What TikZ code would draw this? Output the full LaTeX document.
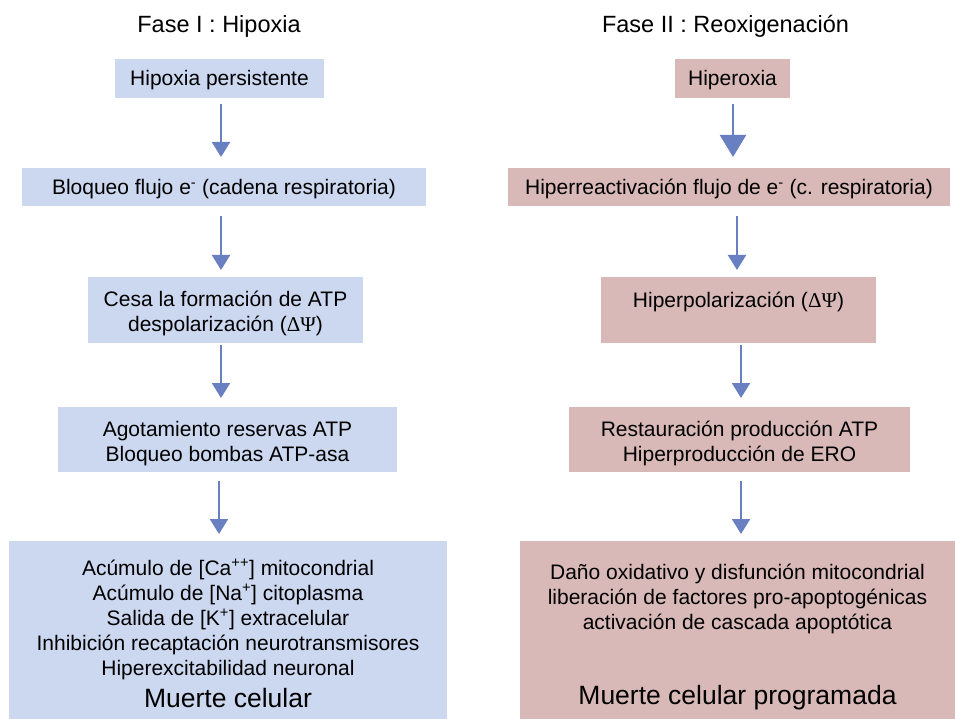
\documentclass[tikz,border=0pt]{standalone}
\usepackage{fontspec}
\setmainfont{Liberation Sans}
\newfontfamily\greekserif{Liberation Serif}
\usetikzlibrary{arrows.meta}
\definecolor{boxblue}{RGB}{204,216,240}
\definecolor{boxpink}{RGB}{216,185,183}
\definecolor{arrblue}{RGB}{104,128,193}
\newcommand\bx[4]{\parbox[c][#1][t]{#2}{\centering\vspace*{#3}#4\par}}
\newcommand\bigtxt[1]{\smash{\fontsize{26.5}{30}\selectfont #1}}
\newcommand\dpsi{{\greekserif ΔΨ}}
\tikzset{
  boxtxt/.style={inner sep=0pt, outer sep=0pt, font=\fontsize{21}{25}\selectfont},
  bluebox/.style={boxtxt, fill=boxblue},
  pinkbox/.style={boxtxt, fill=boxpink},
  titletxt/.style={inner sep=0pt, font=\fontsize{23.5}{28}\selectfont, anchor=base},
  arr/.style={draw=arrblue, line width=2.2pt, -{Triangle[width=18pt,length=15pt]}, arrblue},
  bigarr/.style={draw=arrblue, line width=2.2pt, -{Triangle[width=26pt,length=22pt]}, arrblue}
}
\begin{document}
\begin{tikzpicture}[x=1pt,y=-1pt]
\useasboundingbox (0,0) rectangle (955,719);
% titles
\node[titletxt] (t1) at (219,33) {Fase I : Hipoxia};
\node[titletxt] (t2) at (725.5,33) {Fase II : Reoxigenación};
% left column
\node[bluebox] (l1) at (219.5,78.5) {\bx{39pt}{209pt}{9.5pt}{\strut Hipoxia persistente}};
\node[bluebox] (l2) at (224,187) {\bx{38pt}{404pt}{9.5pt}{\strut Bloqueo flujo e\textsuperscript{-} (cadena respiratoria)}};
\node[bluebox] (l3) at (225.5,310) {\bx{66pt}{275pt}{11.5pt}{\strut Cesa la formación de ATP\\\strut despolarización (\dpsi)}};
\node[bluebox] (l4) at (227.5,439.5) {\bx{65pt}{339pt}{11.5pt}{\strut Agotamiento reservas ATP\\\strut Bloqueo bombas ATP-asa}};
\node[bluebox] (l5) at (228,630) {\bx{178pt}{438pt}{16.5pt}{\strut Acúmulo de [Ca\textsuperscript{++}] mitocondrial\\\strut Acúmulo de [Na\textsuperscript{+}] citoplasma\\\strut Salida de [K\textsuperscript{+}] extracelular\\\strut Inhibición recaptación neurotransmisores\\\strut Hiperexcitabilidad neuronal\\[7pt]\bigtxt{Muerte celular}}};
% right column
\node[pinkbox] (r1) at (732.5,78.5) {\bx{39pt}{115pt}{9.5pt}{\strut Hiperoxia}};
\node[pinkbox] (r2) at (729,187) {\bx{38pt}{442pt}{9.5pt}{\strut Hiperreactivación flujo de e\textsuperscript{-} (c. respiratoria)}};
\node[pinkbox] (r3) at (738.5,310) {\bx{66pt}{275pt}{12.5pt}{\strut Hiperpolarización (\dpsi)}};
\node[pinkbox] (r4) at (739.5,439.5) {\bx{65pt}{341pt}{11.5pt}{\strut Restauración producción ATP\\\strut Hiperproducción de ERO}};
\node[pinkbox] (r5) at (737.5,630) {\bx{178pt}{435pt}{20.5pt}{\strut Daño oxidativo y disfunción mitocondrial\\\strut liberación de factores pro-apoptogénicas\\\strut activación de cascada apoptótica\\[50pt]\bigtxt{Muerte celular programada}}};
% arrow columns
\coordinate (xa1) at (221,0);
\coordinate (xa2) at (221,0);
\coordinate (xa3) at (221,0);
\coordinate (xa4) at (219,0);
\coordinate (xb1) at (733,0);
\coordinate (xb2) at (737,0);
\coordinate (xb3) at (741,0);
\coordinate (xb4) at (741,0);
% left arrows
\draw[arr, shorten <=6pt, shorten >=11pt] (l1.south -| xa1) -- (l2.north -| xa1);
\draw[arr, shorten <=10pt, shorten >=7pt] (l2.south -| xa2) -- (l3.north -| xa2);
\draw[arr, shorten <=2pt, shorten >=9pt] (l3.south -| xa3) -- (l4.north -| xa3);
\draw[arr, shorten <=9pt, shorten >=7pt] (l4.south -| xa4) -- (l5.north -| xa4);
% right arrows
\draw[bigarr, shorten <=6pt, shorten >=11pt] (r1.south -| xb1) -- (r2.north -| xb1);
\draw[arr, shorten <=10pt, shorten >=7pt] (r2.south -| xb2) -- (r3.north -| xb2);
\draw[arr, shorten <=2pt, shorten >=9pt] (r3.south -| xb3) -- (r4.north -| xb3);
\draw[arr, shorten <=9pt, shorten >=7pt] (r4.south -| xb4) -- (r5.north -| xb4);
\end{tikzpicture}
\end{document}
